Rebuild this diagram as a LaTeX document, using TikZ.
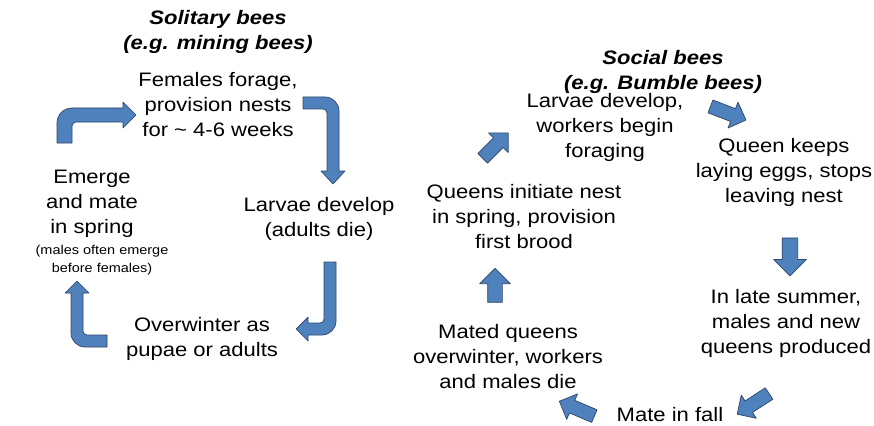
\documentclass[tikz,border=0pt]{standalone}
\usepackage{fontspec}
\setmainfont{Liberation Sans}[FakeStretch=1.13]
\usetikzlibrary{shapes.arrows}
\definecolor{arrowfill}{RGB}{79,129,189}
\definecolor{arrowline}{RGB}{45,70,105}
\newcommand{\shaftw}[1]{\rule{0pt}{#1}}
\tikzset{
  lbl/.style={align=center, inner sep=0pt, font=\fontsize{19.5}{25}\selectfont},
  smalllbl/.style={align=center, inner sep=0pt, font=\fontsize{12.8}{17.5}\selectfont},
  ttl/.style={align=center, inner sep=0pt, font=\fontsize{19.5}{25}\selectfont\bfseries\itshape},
  bluearrow/.style={fill=arrowfill, draw=arrowline, line width=0.7pt, line join=round},
  blk/.style={bluearrow, single arrow, inner sep=0pt, outer sep=0pt}
}
\begin{document}
\begin{tikzpicture}[x=1pt,y=-1pt]
\useasboundingbox (0,0) rectangle (874,425);
% titles
\node[ttl] (soltitle) at (218,32) {Solitary bees\\(e.g. mining bees)};
\node[ttl] (soctitle) at (663,72) {Social bees\\(e.g. Bumble bees)};
% solitary cycle
\node[lbl] (forage) at (218,105) {Females forage,\\provision nests\\for \textasciitilde{} 4-6 weeks};
\node[lbl] (larvaeS) at (319,219) {Larvae develop\\(adults die)};
\node[lbl] (overw) at (202,339) {Overwinter as\\pupae or adults};
\node[lbl] (emerge) at (92,204) {Emerge\\and mate\\in spring};
\node[smalllbl] (males) at (102,260) {(males often emerge\\before females)};
% social cycle
\node[lbl] (larvaeB) at (605,127) {Larvae develop,\\workers begin\\foraging};
\node[lbl] (queenk) at (784,172) {Queen keeps\\laying eggs, stops\\leaving nest};
\node[lbl] (initiate) at (524,217) {Queens initiate nest\\in spring, provision\\first brood};
\node[lbl] (latesum) at (786,323) {In late summer,\\males and new\\queens produced};
\node[lbl] (mated) at (508,357) {Mated queens\\overwinter, workers\\and males die};
\node[lbl] (matefall) at (670,415) {Mate in fall};
% bent arrows (solitary)
\draw[bluearrow] (57,143) -- (57,123) .. controls (57,114.7) and (63.7,108) .. (72,108)
  -- (123,108) -- (123,102) -- (136,115) -- (123,128) -- (123,122) -- (76,122)
  .. controls (73.8,122) and (72,123.8) .. (72,126) -- (72,143) -- cycle;
\draw[bluearrow] (303,97) -- (325,97) .. controls (332.7,97) and (339,103.3) .. (339,111)
  -- (339,171) -- (345,171) -- (333,184) -- (321,171) -- (327,171) -- (327,113)
  .. controls (327,110.8) and (325.2,109) .. (323,109) -- (303,109) -- cycle;
\draw[bluearrow] (324,262) -- (336,262) -- (336,321) .. controls (336,328.7) and (329.7,335) .. (322,335)
  -- (308,335) -- (308,341) -- (296,329) -- (308,317) -- (308,323) -- (320,323)
  .. controls (322.2,323) and (324,321.2) .. (324,319) -- cycle;
\draw[bluearrow] (107,335) -- (87,335) .. controls (84.8,335) and (83,333.2) .. (83,331)
  -- (83,293) -- (89,293) -- (77,281) -- (65,293) -- (71,293) -- (71,333)
  .. controls (71,340.7) and (77.3,347) .. (85,347) -- (107,347) -- cycle;
% straight block arrows (social)
\node[blk, minimum height=36pt, single arrow head extend=7pt, rotate=45] (a5) at (493,148) {\shaftw{13pt}};
\node[blk, minimum height=38pt, single arrow head extend=7pt, rotate=-21] (a6) at (725,112) {\shaftw{13pt}};
\node[blk, minimum height=38pt, single arrow head extend=8.5pt, rotate=-90] (a7) at (790,253) {\shaftw{15pt}};
\node[blk, minimum height=34pt, single arrow head extend=8pt, rotate=90] (a8) at (495,289) {\shaftw{14pt}};
\node[blk, minimum height=38pt, single arrow head extend=7pt, rotate=157] (a9) at (580,410) {\shaftw{13pt}};
\node[blk, minimum height=38pt, single arrow head extend=7pt, rotate=-147] (a10) at (756,402) {\shaftw{13pt}};
\end{tikzpicture}
\end{document}
